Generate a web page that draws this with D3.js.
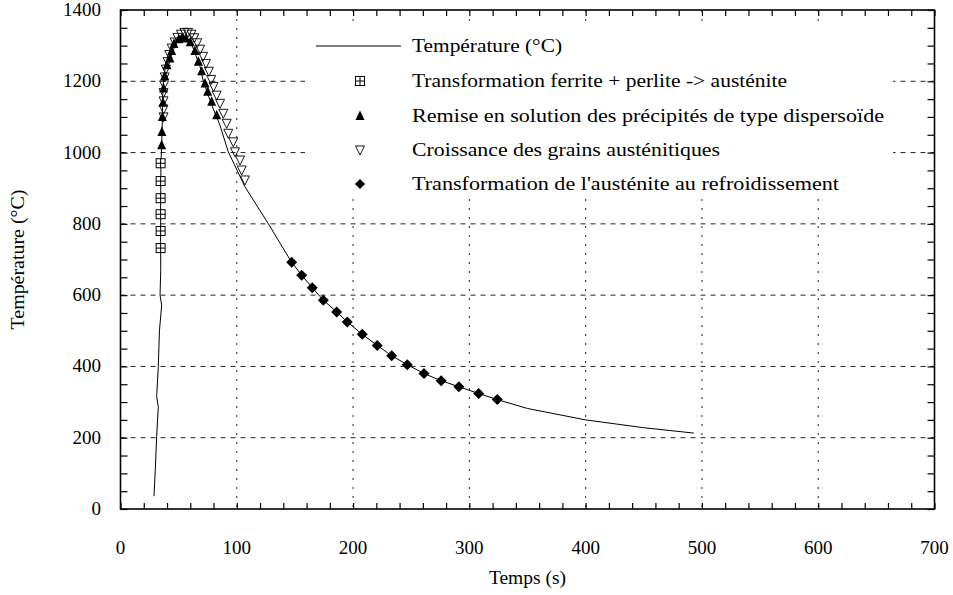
<!DOCTYPE html>
<html>
<head>
<meta charset="utf-8">
<script src="https://cdn.jsdelivr.net/npm/d3@7"></script>
<style>
  body { margin: 0; background: #fff; }
  text { font-family: "Liberation Serif", "DejaVu Serif", serif; fill: #000; }
</style>
</head>
<body>
<svg id="chart" width="953" height="595"></svg>
<script>
// ---------- data ----------
const curveTime = [28.8, 29.9, 31.1, 32.5, 31.1, 32.5, 33.5, 35.4, 34, 34.6, 34.5, 34.5, 34.8, 35.4, 36, 36.5, 39, 41.7, 46.9, 52.9,
  59.8, 64, 68.4, 71, 74.4, 79.5, 85.5, 92.7, 107, 127, 147.2, 155.8, 164.9, 174.4, 185.9, 195, 207.9, 220.8, 233.2, 246.6,
  261, 275.8, 291, 308, 324, 350, 400, 450, 493];
const curveTemp = [36, 109, 203, 287, 315, 399, 500, 572, 600, 670, 750, 850, 974, 1021, 1091, 1186, 1254, 1279, 1316, 1327,
  1316, 1279, 1241, 1203, 1170, 1125, 1077, 1002, 904, 801, 692, 656, 621, 586, 553, 525, 490, 459, 430, 405,
  380, 360, 343, 324, 307, 282, 250, 228, 213];

const ferriteTime = [34.5, 34.5, 34.5, 34.5, 34.5, 34.5];
const ferriteTemp = [732, 780, 827, 872, 920, 970];

const dissolTime = [35.4, 35.6, 36, 36.5, 37, 38, 40, 42.5, 44, 46, 50, 53, 56, 60, 64, 67, 69.8, 72.7, 75, 78.4, 82.7];
const dissolTemp = [1021, 1058, 1100, 1140, 1180, 1215, 1245, 1264, 1285, 1305, 1318, 1322, 1320, 1310, 1285, 1255, 1228, 1194, 1171, 1143, 1105];

const grainTime = [37, 37, 37, 37, 37.5, 38, 39, 40.5, 42, 44, 46.5, 49, 52, 55, 58, 61, 63.5, 66, 68.5, 71, 73.5, 76, 78, 80,
  82.7, 85.6, 88.4, 91.3, 92.7, 97, 98.5, 102.8, 104.2, 107];
const grainTemp = [1100, 1122, 1145, 1168, 1190, 1212, 1234, 1255, 1275, 1293, 1310, 1323, 1332, 1337, 1337, 1332, 1322, 1308, 1290, 1270, 1250, 1228, 1205, 1185,
  1161, 1138, 1110, 1082, 1054, 1030, 1002, 979, 951, 923];

const coolTime = [147.2, 155.8, 164.9, 174.4, 185.9, 195, 207.9, 220.8, 233.2, 246.6, 261, 275.8, 291, 308, 324];
const coolTemp = [692, 656, 621, 586, 553, 525, 490, 459, 430, 405, 380, 360, 343, 324, 307];

const xTicks = [0, 100, 200, 300, 400, 500, 600, 700];
const yTicks = [0, 200, 400, 600, 800, 1000, 1200, 1400];
const legendLabels = [
  "Température (°C)",
  "Transformation ferrite + perlite -> austénite",
  "Remise en solution des précipités de type dispersoïde",
  "Croissance des grains austénitiques",
  "Transformation de l'austénite au refroidissement"
];
const xTitle = "Temps (s)";
const yTitle = "Température (°C)";

// ---------- layout ----------
const pLeft = 120.5, pRight = 934.5, pTop = 10, pBottom = 509;
const svg = d3.select("#chart");
const x = d3.scaleLinear().domain([0, 700]).range([pLeft, pRight]);
const y = d3.scaleLinear().domain([0, 1400]).range([pBottom, pTop]);

// grid
const grid = svg.append("g");
grid.selectAll("line.h").data(yTicks.filter(d => d > 0 && d < 1400)).join("line")
  .attr("x1", pLeft).attr("x2", pRight).attr("y1", d => y(d)).attr("y2", d => y(d))
  .attr("stroke", "#222").attr("stroke-width", 1).attr("stroke-dasharray", "5,5");
grid.selectAll("line.v").data(xTicks.filter(d => d > 0 && d < 700)).join("line")
  .attr("y1", pTop).attr("y2", pBottom).attr("x1", d => x(d)).attr("x2", d => x(d))
  .attr("stroke", "#222").attr("stroke-width", 1).attr("stroke-dasharray", "2,7");

// axes (ticks inward)
const fmt = d3.format("d");
const xAxis = d3.axisBottom(x).tickValues(d3.range(0, 701, 20)).tickSize(-6).tickFormat("");
const yAxis = d3.axisLeft(y).tickValues(d3.range(0, 1401, 50)).tickSize(-7).tickFormat("");
const xAxisTop = d3.axisTop(x).tickValues(d3.range(0, 701, 20)).tickSize(-6).tickFormat("");
const yAxisRight = d3.axisRight(y).tickValues(d3.range(0, 1401, 50)).tickSize(-7).tickFormat("");
function styleAxis(g) {
  g.select(".domain").remove();
  g.selectAll(".tick line").attr("stroke", "#000").attr("stroke-width", 1.2);
}
svg.append("g").attr("transform", `translate(0,${pBottom})`).call(xAxis).call(styleAxis);
svg.append("g").attr("transform", `translate(${pLeft},0)`).call(yAxis).call(styleAxis);
svg.append("g").attr("transform", `translate(0,${pTop})`).call(xAxisTop).call(styleAxis);
svg.append("g").attr("transform", `translate(${pRight},0)`).call(yAxisRight).call(styleAxis);

// tick labels
svg.append("g").selectAll("text").data(xTicks).join("text")
  .attr("x", d => x(d)).attr("y", 554).attr("text-anchor", "middle")
  .attr("font-size", 19).text(d => fmt(d));
svg.append("g").selectAll("text").data(yTicks).join("text")
  .attr("x", 101).attr("y", d => y(d) + 6).attr("text-anchor", "end")
  .attr("font-size", 19).text(d => fmt(d));

// axis titles
svg.append("text").attr("x", x(350)).attr("y", 584).attr("text-anchor", "middle")
  .attr("font-size", 19.5).text(xTitle);
svg.append("text").attr("transform", `translate(24,${(pTop + pBottom) / 2}) rotate(-90)`)
  .attr("text-anchor", "middle").attr("font-size", 19.5)
  .attr("textLength", 140).attr("lengthAdjust", "spacingAndGlyphs").text(yTitle);

// curve
const curve = curveTime.map((t, i) => [t, curveTemp[i]]);
svg.append("path").datum(curve)
  .attr("d", d3.line().x(d => x(d[0])).y(d => y(d[1])))
  .attr("fill", "none").attr("stroke", "#000").attr("stroke-width", 1);

// marker shapes
function squareCross(g, s) {
  g.append("rect").attr("x", -s / 2).attr("y", -s / 2).attr("width", s).attr("height", s)
    .attr("fill", "#fff").attr("stroke", "#000").attr("stroke-width", 1);
  g.append("path").attr("d", `M${-s / 2},0H${s / 2}M0,${-s / 2}V${s / 2}`)
    .attr("stroke", "#000").attr("stroke-width", 1);
}
function triUp(g, s) {
  g.append("path").attr("d", `M0,${-s * 0.6}L${s / 2},${s * 0.45}L${-s / 2},${s * 0.45}Z`).attr("fill", "#000");
}
function triDown(g, s) {
  g.append("path").attr("d", `M${-s / 2},${-s * 0.45}L${s / 2},${-s * 0.45}L0,${s * 0.55}Z`)
    .attr("fill", "none").attr("stroke", "#000").attr("stroke-width", 0.9);
}
function diamond(g, s) {
  g.append("path").attr("d", `M0,${-s / 2}L${s / 2},0L0,${s / 2}L${-s / 2},0Z`).attr("fill", "#000");
}
function drawSeries(ts, vs, fn, s) {
  const g = svg.append("g");
  ts.forEach((t, i) => {
    const m = g.append("g").attr("transform", `translate(${x(t)},${y(vs[i])})`);
    fn(m, s);
  });
}
drawSeries(grainTime, grainTemp, triDown, 9);
drawSeries(ferriteTime, ferriteTemp, squareCross, 9);
drawSeries(dissolTime, dissolTemp, triUp, 9);
drawSeries(coolTime, coolTemp, diamond, 11);

// legend (white box hides the grid behind it)
const legY = [46, 81, 116, 150, 184];
const legWidths = [150, 375, 472, 308, 427];
const leg = svg.append("g");
leg.append("rect").attr("x", 305).attr("y", 27).attr("width", 588).attr("height", 172).attr("fill", "#fff");
leg.append("line").attr("x1", 316).attr("x2", 401).attr("y1", legY[0]).attr("y2", legY[0])
  .attr("stroke", "#000").attr("stroke-width", 1);
const legFns = [null, squareCross, triUp, triDown, diamond];
const legSizes = [0, 9, 9, 9, 10];
legendLabels.forEach((lab, i) => {
  if (legFns[i]) {
    const m = leg.append("g").attr("transform", `translate(360,${legY[i]})`);
    legFns[i](m, legSizes[i]);
  }
  leg.append("text").attr("x", 412).attr("y", legY[i] + 6).attr("font-size", 19)
    .attr("textLength", legWidths[i]).attr("lengthAdjust", "spacingAndGlyphs").text(lab);
});

// frame
svg.append("rect").attr("x", pLeft).attr("y", pTop).attr("width", pRight - pLeft).attr("height", pBottom - pTop)
  .attr("fill", "none").attr("stroke", "#000").attr("stroke-width", 1.6);
</script>
</body>
</html>
